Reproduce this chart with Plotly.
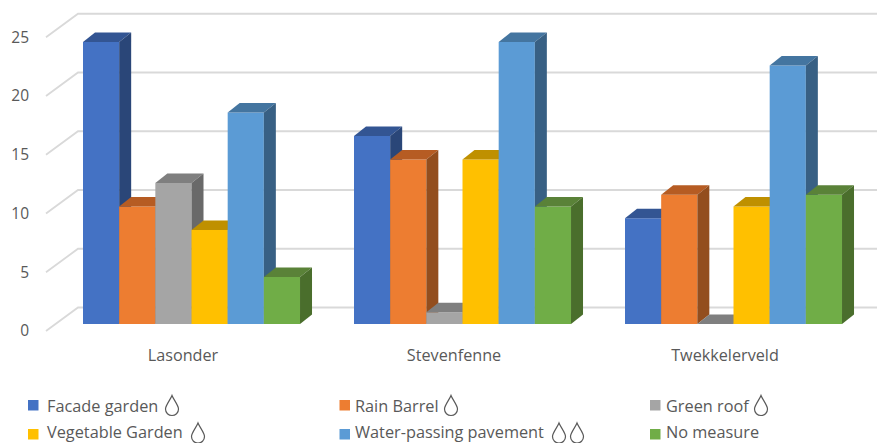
import plotly.graph_objects as go

# Neighbourhoods and number of measures per neighbourhood
neighbourhoods = ["Lasonder", "Stevenfenne", "Twekkelerveld"]
facade_garden = [24, 16, 9]
rain_barrel = [10, 14, 11]
green_roof = [12, 1, 0]
vegetable_garden = [8, 14, 10]
water_passing_pavement = [18, 24, 22]
no_measure = [4, 10, 11]

series_names = ["Facade garden", "Rain Barrel", "Green roof",
                "Vegetable Garden", "Water-passing pavement", "No measure"]
series_values = [facade_garden, rain_barrel, green_roof,
                 vegetable_garden, water_passing_pavement, no_measure]
front_colors = ["#4472C4", "#ED7D31", "#A5A5A5", "#FFC000", "#5B9BD5", "#70AD47"]
top_colors = ["#335593", "#B65C23", "#7F7F7F", "#BF9000", "#4475A0", "#5A8238"]
side_colors = ["#2A4678", "#934E1E", "#696969", "#9D7600", "#386084", "#4A6E2C"]
value_ticks = [0, 5, 10, 15, 20, 25]

WIDTH, HEIGHT = 877, 443
PX_PER_GROUP = 271.0
PX_PER_VALUE = 11.75
GROUP_ZERO_PX = 183.0      # pixel of the first category label
BAR_BASE_PX = 324.0        # baseline of the bars' front faces
WALL_BASE_PX = 331.0       # baseline of the front edge of the side wall
BAR_PX = 36.17
BAR_START_PX = -100.0      # first bar's left edge relative to the label

bar_w = BAR_PX / PX_PER_GROUP
bar_start = BAR_START_PX / PX_PER_GROUP
depth_x = 12.0 / PX_PER_GROUP
depth_y = 9.5 / PX_PER_VALUE
FONT = "Open Sans"
TEXT = "#595959"
GRID = "#D9D9D9"

fig = go.Figure()

# Floor and back-wall gridlines, with their slanted stubs on the side wall
wall_left = (46 - GROUP_ZERO_PX) / PX_PER_GROUP
wall_back = (78 - GROUP_ZERO_PX) / PX_PER_GROUP
wall_right = (WIDTH - GROUP_ZERO_PX) / PX_PER_GROUP
wall_rise = 23.5 / PX_PER_VALUE
grid_x, grid_y = [], []
for v in value_ticks:
    grid_x += [wall_left, wall_back, wall_right, None]
    grid_y += [v, v + wall_rise, v + wall_rise, None]
fig.add_trace(go.Scatter(x=grid_x, y=grid_y, mode="lines", showlegend=False,
                         hoverinfo="skip", line=dict(color=GRID, width=1.8),
                         xaxis="x", yaxis="y"))

# One overlaid subplot per series, so that later series paint over earlier ones
for i, (name, vals) in enumerate(zip(series_names, series_values)):
    axis = f"y{i + 2}"
    left_offset = bar_start + i * bar_w
    fig.add_trace(go.Bar(
        x=list(range(len(neighbourhoods))), y=vals, name=name, yaxis=axis,
        width=bar_w, offset=left_offset, showlegend=False,
        marker=dict(color=front_colors[i], line_width=0),
    ))
    for c, v in enumerate(vals):
        x0 = c + left_offset
        x1 = x0 + bar_w
        # top face
        fig.add_trace(go.Scatter(
            x=[x0, x1, x1 + depth_x, x0 + depth_x, x0],
            y=[v, v, v + depth_y, v + depth_y, v],
            mode="lines", fill="toself", fillcolor=top_colors[i], line_width=0,
            showlegend=False, hoverinfo="skip", yaxis=axis))
        # right-hand side face
        fig.add_trace(go.Scatter(
            x=[x1, x1 + depth_x, x1 + depth_x, x1, x1],
            y=[0, depth_y, v + depth_y, v, 0],
            mode="lines", fill="toself", fillcolor=side_colors[i], line_width=0,
            showlegend=False, hoverinfo="skip", yaxis=axis))

x_range = [-GROUP_ZERO_PX / PX_PER_GROUP, (WIDTH - GROUP_ZERO_PX) / PX_PER_GROUP]
wall_range = [-(HEIGHT - WALL_BASE_PX) / PX_PER_VALUE, WALL_BASE_PX / PX_PER_VALUE]
bar_range = [-(HEIGHT - BAR_BASE_PX) / PX_PER_VALUE, BAR_BASE_PX / PX_PER_VALUE]

layout = dict(
    width=WIDTH, height=HEIGHT, margin=dict(l=0, r=0, t=0, b=0, autoexpand=False),
    paper_bgcolor="white", plot_bgcolor="white", barmode="overlay", showlegend=False,
    font=dict(family=FONT, color=TEXT, size=16),
    xaxis=dict(range=x_range, tickmode="array", tickvals=list(range(len(neighbourhoods))),
               ticktext=neighbourhoods, showgrid=False, zeroline=False, showline=False,
               ticks="", anchor="free", position=1 - 344 / HEIGHT,
               tickfont=dict(size=16.2, color=TEXT, family=FONT)),
    yaxis=dict(range=wall_range, tickmode="array", tickvals=value_ticks,
               showgrid=False, zeroline=False, showline=False, ticks="",
               anchor="free", position=29 / WIDTH,
               tickfont=dict(size=15.5, color=TEXT, family=FONT)),
)
for i in range(len(series_names)):
    layout[f"yaxis{i + 2}"] = dict(range=bar_range, overlaying="y", visible=False)

# Hand-placed key: three columns, two rows, coloured squares beside the names
key_columns = [(28, 47), (339.5, 355), (650, 665.5)]
key_rows = [405, 434]
key_text_rows = [405.5, 432]
shapes, annotations = [], []
for i, name in enumerate(series_names):
    sx, tx = key_columns[i % 3]
    row = key_rows[i // 3]
    shapes.append(dict(type="rect", xref="paper", yref="paper",
                       x0=sx / WIDTH, x1=(sx + 10.5) / WIDTH,
                       y0=1 - (row + 5.5) / HEIGHT, y1=1 - (row - 5) / HEIGHT,
                       fillcolor=front_colors[i], line_width=0))
    annotations.append(dict(text=name, xref="paper", yref="paper", showarrow=False,
                            x=tx / WIDTH, y=1 - key_text_rows[i // 3] / HEIGHT,
                            xanchor="left", yanchor="middle",
                            font=dict(size=16.3, color=TEXT, family=FONT),
                            borderpad=0, borderwidth=0))

# Water-drop outlines that follow the key entries
DROP = ("M0,10 C-1.5,6 -6.5,0 -6.5,-3.5 C-6.5,-7.5 -3.5,-10 0,-10 "
        "C3.5,-10 6.5,-7.5 6.5,-3.5 C6.5,0 1.5,6 0,10 Z")
drop_anchors = [(172, 405.5), (451, 405.5), (761, 405.5), (198, 433), (559, 433), (577, 433)]
shapes += [
    dict(type="path", path=DROP, xref="paper", yref="paper",
         xsizemode="pixel", ysizemode="pixel",
         xanchor=px / WIDTH, yanchor=1 - py / HEIGHT,
         line=dict(color=TEXT, width=1.2), fillcolor="rgba(0,0,0,0)")
    for px, py in drop_anchors
]
layout["shapes"] = shapes
layout["annotations"] = annotations

fig.update_layout(**layout)
fig.write_html("out.html", config={"displayModeBar": False})
